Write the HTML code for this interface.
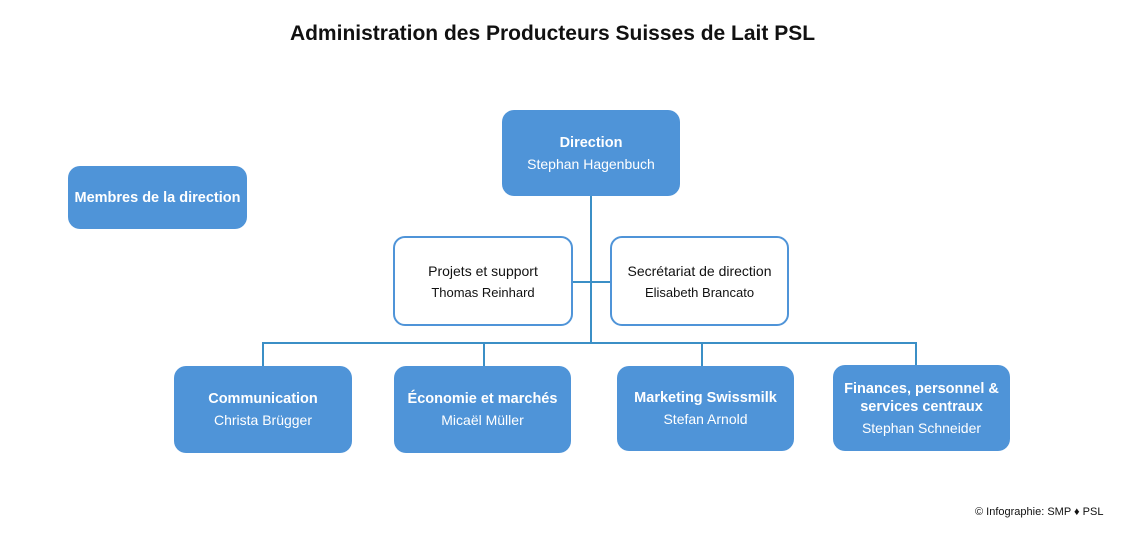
<!DOCTYPE html>
<html><head><meta charset="utf-8"><style>
body{margin:0;width:1135px;height:537px;background:#fff;position:relative;font-family:"Liberation Sans",sans-serif;overflow:hidden}
.t{position:absolute;left:0;width:1135px;top:22px;text-align:center;font-size:21px;font-weight:bold;color:#111;padding-left:-30px}
.b{position:absolute;box-sizing:border-box;border-radius:12px;display:flex;flex-direction:column;justify-content:center;align-items:center;text-align:center;font-size:14px}
.f{background:#4f94d8;color:#fff}
.f b{font-size:14.5px;margin-bottom:5px}
.o{background:#fff;border:2px solid #4f94d8;color:#111}
.o span:first-child{margin-bottom:6px}
.l{position:absolute;background:#3b8fc6}
</style></head><body>
<div class="t" style="left:-15px">Administration des Producteurs Suisses de Lait PSL</div>
<div class="l" style="left:590px;top:196px;width:1.5px;height:146px"></div>
<div class="l" style="left:573px;top:281px;width:37px;height:1.5px"></div>
<div class="l" style="left:262px;top:342px;width:655px;height:1.5px"></div>
<div class="l" style="left:262px;top:342px;width:1.5px;height:24px"></div>
<div class="l" style="left:483px;top:342px;width:1.5px;height:24px"></div>
<div class="l" style="left:701px;top:342px;width:1.5px;height:24px"></div>
<div class="l" style="left:915px;top:342px;width:1.5px;height:24px"></div>
<div class="b f" style="left:502px;top:110px;width:178px;height:86px"><b>Direction</b><span>Stephan Hagenbuch</span></div>
<div class="b f" style="left:68px;top:166px;width:179px;height:63px"><b style="margin:0">Membres de la direction</b></div>
<div class="b o" style="left:393px;top:236px;width:180px;height:90px"><span>Projets et support</span><span style="font-size:13px">Thomas Reinhard</span></div>
<div class="b o" style="left:610px;top:236px;width:179px;height:90px"><span>Secrétariat de direction</span><span style="font-size:13px">Elisabeth Brancato</span></div>
<div class="b f" style="left:174px;top:366px;width:178px;height:87px"><b>Communication</b><span>Christa Brügger</span></div>
<div class="b f" style="left:394px;top:366px;width:177px;height:87px"><b>Économie et marchés</b><span>Micaël Müller</span></div>
<div class="b f" style="left:617px;top:366px;width:177px;height:85px"><b>Marketing Swissmilk</b><span>Stefan Arnold</span></div>
<div class="b f" style="left:833px;top:365px;width:177px;height:86px"><b style="margin-bottom:4px;line-height:18px">Finances, personnel &amp;<br>services centraux</b><span>Stephan Schneider</span></div>
<div style="position:absolute;left:975px;top:506px;font-size:11px;color:#111">© Infographie: SMP ♦ PSL</div>
</body></html>
